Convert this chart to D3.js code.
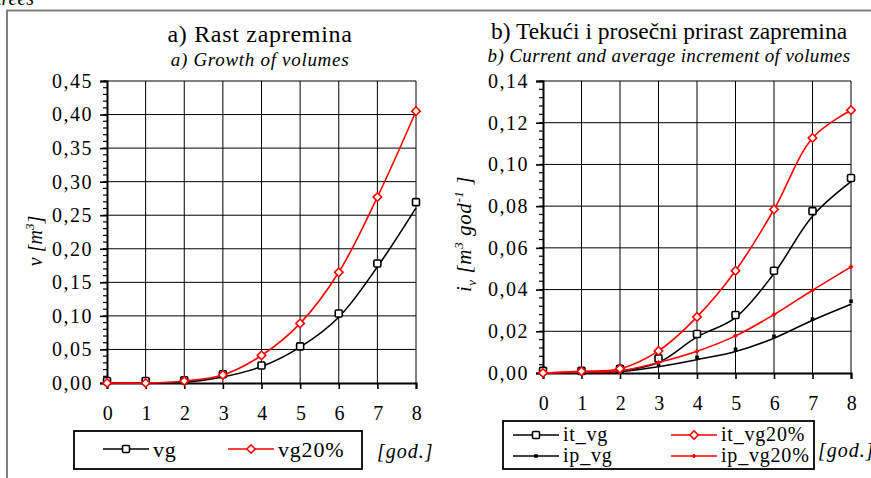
<!DOCTYPE html>
<html>
<head>
<meta charset="utf-8">
<script src="https://cdnjs.cloudflare.com/ajax/libs/d3/7.8.5/d3.min.js"></script>
<style>
  body { margin: 0; background: #fff; }
  svg text { font-family: "Liberation Serif", "Times New Roman", Times, serif !important; }
</style>
</head>
<body>
<div id="chart"></div>
<script>
// years on the x axis
var years = [0, 1, 2, 3, 4, 5, 6, 7, 8];

// a) volumes [m3]
var vgPts  = [0.003, 0.003, 0.004, 0.013, 0.026, 0.0545, 0.1035, 0.178, 0.2695];
var vgFit  = [0, 0, 0.001, 0.009, 0.0245, 0.0535, 0.098, 0.173, 0.261];
var vg20   = [0, 0, 0.003, 0.012, 0.041, 0.0888, 0.165, 0.277, 0.405];

// b) increments [m3 god-1]
var itVgPts = [0.001, 0.001, 0.002, 0.007, 0.0187, 0.0278, 0.049, 0.0776, 0.0935];
var itVgFit = [0, 0.0003, 0.001, 0.005, 0.0173, 0.0266, 0.0477, 0.0752, 0.0917];
var ipVgPts = [0.0005, 0.0005, 0.001, 0.004, 0.0075, 0.0114, 0.0176, 0.0259, 0.0344];
var ipVgFit = [0, 0.0002, 0.0006, 0.003, 0.0064, 0.0103, 0.0167, 0.0253, 0.033];
var itVg20  = [0, 0.0008, 0.002, 0.0106, 0.0269, 0.049, 0.0784, 0.1127, 0.126];
var ipVg20  = [0, 0.0005, 0.001, 0.005, 0.0104, 0.0178, 0.028, 0.0397, 0.0509];

var yTicksA = [0, 0.05, 0.10, 0.15, 0.20, 0.25, 0.30, 0.35, 0.40, 0.45];
var yTicksB = [0, 0.02, 0.04, 0.06, 0.08, 0.10, 0.12, 0.14];

var RED = "#ff0000";

var svg = d3.select("#chart").append("svg")
    .attr("width", 871).attr("height", 478)
    .attr("font-family", "Liberation Serif, serif");

// clipped caption from the page above
svg.append("text").attr("x", -4).attr("y", 5)
    .style("font-style", "italic").style("font-size", "20px")
    .text("trees");

// outer gray frame
svg.append("path").attr("d", "M7,478 V10.5 H871")
    .attr("fill", "none").attr("stroke", "#808080").attr("stroke-width", 2);

function comma(v) { return d3.format(".2f")(v).replace(".", ","); }

function marker(g, type, color, x, y) {
  if (type == "square") {
    g.append("rect").attr("x", x - 3.5).attr("y", y - 3.5).attr("width", 7).attr("height", 7)
      .attr("rx", 1.2).attr("fill", "#fff").attr("stroke", color).attr("stroke-width", 1.6);
  } else if (type == "diamond") {
    g.append("rect").attr("x", -3).attr("y", -3).attr("width", 6).attr("height", 6)
      .attr("transform", "translate(" + x + "," + y + ") rotate(45)")
      .attr("fill", "#fff").attr("stroke", color).attr("stroke-width", 1.6);
  } else if (type == "dot") {
    g.append("rect").attr("x", x - 1.8).attr("y", y - 1.8).attr("width", 3.6).attr("height", 3.6)
      .attr("fill", color);
  } else if (type == "sdiamond") {
    g.append("rect").attr("x", -1.8).attr("y", -1.8).attr("width", 3.6).attr("height", 3.6)
      .attr("transform", "translate(" + x + "," + y + ") rotate(45)")
      .attr("fill", color);
  }
}

function panel(opt) {
  var x = d3.scaleLinear().domain([0, 8]).range([opt.x0, opt.x1]);
  var y = d3.scaleLinear().domain([0, opt.ymax]).range([opt.y0, opt.y1]);
  var g = svg.append("g");

  // titles
  g.append("text").attr("x", opt.cx).attr("y", opt.titleY)
    .attr("text-anchor", "middle").style("font-size", opt.titleFs).style("letter-spacing", opt.titleLs)
    .text(opt.title);
  g.append("text").attr("x", opt.cx).attr("y", opt.subY)
    .attr("text-anchor", "middle").style("font-size", "19px").style("font-style", "italic")
    .style("letter-spacing", opt.subLs)
    .text(opt.sub);

  // grid
  g.selectAll(".hg").data(opt.yTicks.slice(1)).enter().append("line")
    .attr("x1", opt.x0).attr("x2", opt.x1)
    .attr("y1", function(d) { return y(d); }).attr("y2", function(d) { return y(d); })
    .attr("stroke", "#000").attr("stroke-width", 1);
  g.selectAll(".vg").data(years.slice(1)).enter().append("line")
    .attr("x1", function(d) { return x(d); }).attr("x2", function(d) { return x(d); })
    .attr("y1", opt.y0).attr("y2", opt.y1)
    .attr("stroke", "#000").attr("stroke-width", 1);

  // minor ticks on y axis
  var minor = d3.range(0, opt.ymax + 1e-9, opt.minorStep);
  g.selectAll(".mt").data(minor).enter().append("line")
    .attr("x1", opt.x0 - 4).attr("x2", opt.x0)
    .attr("y1", function(d) { return y(d); }).attr("y2", function(d) { return y(d); })
    .attr("stroke", "#000").attr("stroke-width", 1.2);

  // y axis
  var ya = g.append("g").attr("transform", "translate(" + opt.x0 + ",0)")
    .call(d3.axisLeft(y).tickValues(opt.yTicks).tickSize(7).tickPadding(9).tickFormat(comma));
  // x axis
  var xa = g.append("g").attr("transform", "translate(0," + opt.y0 + ")")
    .call(d3.axisBottom(x).tickValues(years).tickSize(6).tickPadding(17).tickFormat(d3.format("d")));
  [ya, xa].forEach(function(a) {
    a.attr("font-family", null);
    a.select(".domain").attr("stroke-width", 2).attr("stroke", "#000");
    a.selectAll(".tick line").attr("stroke-width", 1.6);
    a.selectAll("text").style("font-size", "20px").style("letter-spacing", "1.5px")
      .attr("fill", "#000");
  });
  ya.selectAll("text").attr("dx", "2px");
  xa.selectAll("text").attr("dx", "1px");

  // y axis title
  var yt = g.append("text")
    .attr("transform", "translate(" + opt.ytX + "," + opt.ytY + ") rotate(-90)")
    .attr("text-anchor", "middle").style("font-size", opt.ytFs).style("font-style", "italic")
    .style("letter-spacing", opt.ytLs);
  opt.yTitle(yt);

  // series
  var line = d3.line().curve(d3.curveCatmullRom)
    .x(function(d, i) { return x(years[i]); })
    .y(function(d) { return y(d); });
  opt.series.forEach(function(s) {
    g.append("path").datum(s.line).attr("d", line)
      .attr("fill", "none").attr("stroke", s.color).attr("stroke-width", 1.6);
    s.pts.forEach(function(v, i) { marker(g, s.marker, s.color, x(years[i]), y(v)); });
  });

  // legend
  g.append("rect").attr("x", opt.leg.x).attr("y", opt.leg.y)
    .attr("width", opt.leg.w).attr("height", opt.leg.h)
    .attr("fill", "#fff").attr("stroke", "#000").attr("stroke-width", 1.8);
  opt.leg.items.forEach(function(it) {
    g.append("line").attr("x1", it.x).attr("x2", it.x + 46).attr("y1", it.y).attr("y2", it.y)
      .attr("stroke", it.color).attr("stroke-width", 1.6);
    marker(g, it.marker, it.color, it.x + 23, it.y);
    g.append("text").attr("x", it.x + 50).attr("y", it.y + opt.leg.dy)
      .style("font-size", opt.leg.fs).style("letter-spacing", "0.8px").text(it.label);
  });
  g.append("text").attr("x", opt.god.x).attr("y", opt.god.y)
    .style("font-size", "20px").style("font-style", "italic").style("letter-spacing", "1px")
    .text("[god.]");
}

panel({
  x0: 107, x1: 416, y0: 383, y1: 81, ymax: 0.45, minorStep: 0.01, yTicks: yTicksA,
  cx: 260, titleY: 42, subY: 66, titleFs: "24px", titleLs: "0.7px", subLs: "0.7px",
  title: "a) Rast zapremina", sub: "a) Growth of volumes",
  ytX: 42, ytY: 241, ytFs: "20px", ytLs: "0px",
  yTitle: function(t) {
    t.append("tspan").text("v [m");
    t.append("tspan").attr("dy", -8).style("font-size", "13px").text("3");
    t.append("tspan").attr("dy", 8).text("]");
  },
  series: [
    { line: vgFit, pts: vgPts, color: "#000", marker: "square" },
    { line: vg20, pts: vg20, color: RED, marker: "diamond" }
  ],
  leg: { x: 74, y: 431, w: 288, h: 38, fs: "22px", dy: 8, items: [
    { x: 103, y: 449, color: "#000", marker: "square", label: "vg" },
    { x: 228, y: 449, color: RED, marker: "diamond", label: "vg20%" }
  ]},
  god: { x: 377, y: 458 }
});

panel({
  x0: 543, x1: 851, y0: 373, y1: 81, ymax: 0.14, minorStep: 0.004, yTicks: yTicksB,
  cx: 669, titleY: 39, subY: 62, titleFs: "23.5px", titleLs: "0px", subLs: "0.4px",
  title: "b) Tekući i prosečni prirast zapremina", sub: "b) Current and average increment of volumes",
  ytX: 471, ytY: 234, ytFs: "21px", ytLs: "0.6px",
  yTitle: function(t) {
    t.append("tspan").text("i");
    t.append("tspan").attr("dy", 5).style("font-size", "13px").text("v");
    t.append("tspan").attr("dy", -5).text(" [m");
    t.append("tspan").attr("dy", -8).style("font-size", "13px").text("3");
    t.append("tspan").attr("dy", 8).text(" god");
    t.append("tspan").attr("dy", -8).style("font-size", "13px").text("-1");
    t.append("tspan").attr("dy", 8).text(" ]");
  },
  series: [
    { line: ipVgFit, pts: ipVgPts, color: "#000", marker: "dot" },
    { line: itVgFit, pts: itVgPts, color: "#000", marker: "square" },
    { line: ipVg20, pts: ipVg20, color: RED, marker: "sdiamond" },
    { line: itVg20, pts: itVg20, color: RED, marker: "diamond" }
  ],
  leg: { x: 503, y: 421, w: 311, h: 48, fs: "20px", dy: 6, items: [
    { x: 513, y: 435, color: "#000", marker: "square", label: "it_vg" },
    { x: 513, y: 456, color: "#000", marker: "dot", label: "ip_vg" },
    { x: 671, y: 435, color: RED, marker: "diamond", label: "it_vg20%" },
    { x: 671, y: 456, color: RED, marker: "sdiamond", label: "ip_vg20%" }
  ]},
  god: { x: 818, y: 457 }
});
</script>
</body>
</html>
